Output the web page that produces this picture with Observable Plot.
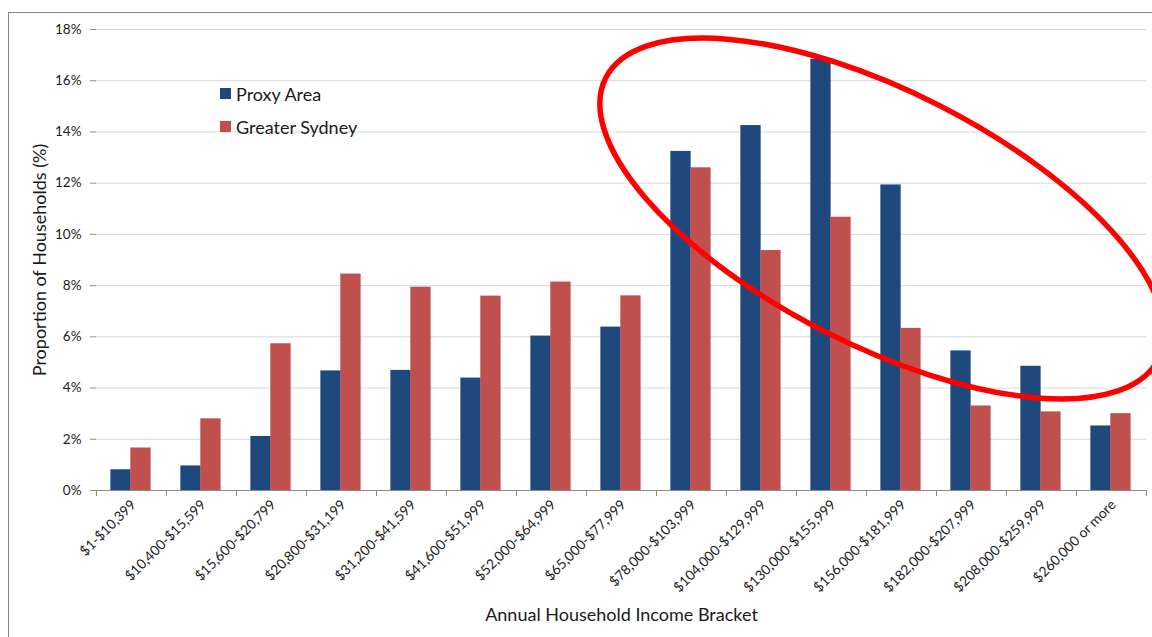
<!DOCTYPE html>
<html><head><meta charset="utf-8">
<script src="https://cdn.jsdelivr.net/npm/d3@7"></script>
<script src="https://cdn.jsdelivr.net/npm/@observablehq/plot@0.6"></script>
<style>
body{margin:0;background:#fff;overflow:hidden;font-family:Lato,"Open Sans",sans-serif}
#wrap{position:relative;width:1152px;height:637px;overflow:hidden}
#frame{position:absolute;left:8px;top:12px;width:1300px;height:800px;border-left:1.5px solid #8a8a8a;border-top:1.5px solid #8a8a8a;box-sizing:border-box}
#chart{position:absolute;left:0;top:0}
#legend{position:absolute;left:220px;top:77px;font-size:18px;color:#1a1a1a}
.row{display:flex;align-items:center;height:33px;white-space:nowrap}
.sw{width:11px;height:11px;margin-right:5px;flex:none}
</style></head><body>
<div id="wrap"><div id="frame"></div><div id="chart"></div><div id="legend"></div></div>
<script>
const categories = ["$1-$10,399","$10,400-$15,599","$15,600-$20,799","$20,800-$31,199","$31,200-$41,599","$41,600-$51,999","$52,000-$64,999","$65,000-$77,999","$78,000-$103,999","$104,000-$129,999","$130,000-$155,999","$156,000-$181,999","$182,000-$207,999","$208,000-$259,999","$260,000 or more"];
const proxyArea = [0.81,0.96,2.11,4.67,4.69,4.39,6.03,6.38,13.24,14.25,16.84,11.93,5.45,4.85,2.52];
const greaterSydney = [1.66,2.80,5.73,8.45,7.94,7.59,8.14,7.60,12.60,9.37,10.67,6.33,3.30,3.07,3.00];
const seriesNames = ["Proxy Area","Greater Sydney"];
const seriesColors = ["#1f497d","#c0504d"];
const yTicks = [0,2,4,6,8,10,12,14,16,18];
const yTitle = "Proportion of Households (%)";
const xTitle = "Annual Household Income Bracket";
// highlight annotation (red ellipse), in band / value units
const highlight = {category:"$156,000-$181,999", bandOffset:0.23, value:10.6, rxBands:4.43, ryBands:1.81, angle:27};

const W = 1152, H = 637, ML = 96, MR = 6, MT = 29, MB = 147;
const bw = (W - ML - MR) / categories.length;

const rows = categories.flatMap((c, i) => [
  {category: c, series: seriesNames[0], value: proxyArea[i]},
  {category: c, series: seriesNames[1], value: greaterSydney[i]}
]);

const ellipseMark = (index, scales, values, dims) => {
  const x = scales.x;
  const b = x.bandwidth ? x.bandwidth() : bw;
  const cx = x(highlight.category) + highlight.bandOffset * b;
  const cy = scales.y(highlight.value);
  return d3.create("svg:ellipse")
    .attr("cx", cx).attr("cy", cy)
    .attr("rx", highlight.rxBands * b).attr("ry", highlight.ryBands * b)
    .attr("transform", `rotate(${highlight.angle} ${cx} ${cy})`)
    .attr("fill", "none").attr("stroke", "#ff0000").attr("stroke-width", 5.5)
    .node();
};

const chart = Plot.plot({
  width: W, height: H,
  marginLeft: ML, marginRight: MR, marginTop: MT, marginBottom: MB,
  style: {fontFamily: "Lato, 'Open Sans', sans-serif", fontSize: "13.5px", color: "#1a1a1a", background: "transparent"},
  x: {domain: categories, padding: 0, axis: null},
  y: {domain: [0, 18], axis: null},
  marks: [
    Plot.gridY(yTicks.filter(d => d > 0), {stroke: "#d9d9d9", strokeOpacity: 1}),
    Plot.barY(rows.filter(d => d.series === seriesNames[0]), {x: "category", y: "value", fill: seriesColors[0], insetLeft: bw * 0.205, insetRight: bw * 0.505}),
    Plot.barY(rows.filter(d => d.series === seriesNames[1]), {x: "category", y: "value", fill: seriesColors[1], insetLeft: bw * 0.49, insetRight: bw * 0.22}),
    Plot.ruleY([0], {stroke: "#8c8c8c"}),
    Plot.axisY({ticks: yTicks, tickSize: 6, tickPadding: 9, tickFormat: d => d + "%", stroke: "#8c8c8c", fill: "#1a1a1a", line: true, label: null}),
    Plot.axisX({tickSize: 6, tickFormat: () => "", dx: -bw / 2, stroke: "#8c8c8c", label: null}),
    Plot.axisX([categories[categories.length - 1]], {tickSize: 6, tickFormat: () => "", dx: bw / 2, stroke: "#8c8c8c", label: null}),
    Plot.axisX({tickSize: 0, tickPadding: 12, tickRotate: -45, fontSize: 13.8, dx: 2, fill: "#1a1a1a", label: null}),
    Plot.text([yTitle], {text: d => d, frameAnchor: "left", textAnchor: "middle", lineAnchor: "middle", rotate: -90, dx: -56, fontSize: 18, fill: "#1a1a1a"}),
    Plot.text([xTitle], {text: d => d, frameAnchor: "bottom", textAnchor: "middle", lineAnchor: "middle", dy: 125, fontSize: 18, fill: "#1a1a1a"}),
    ellipseMark
  ]
});
document.getElementById("chart").appendChild(chart);

const legend = d3.select("#legend");
seriesNames.forEach((name, i) => {
  const r = legend.append("div").attr("class", "row");
  r.append("div").attr("class", "sw").style("background", seriesColors[i]);
  r.append("span").text(name);
});
</script>
</body></html>
